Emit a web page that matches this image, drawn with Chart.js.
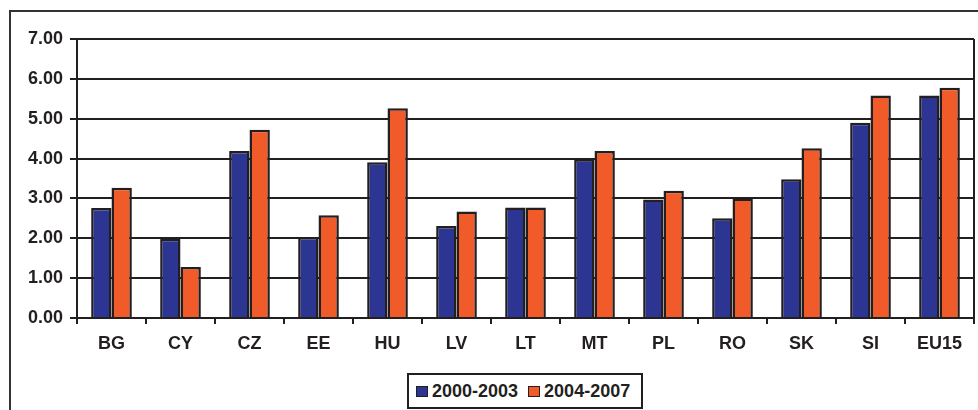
<!DOCTYPE html>
<html>
<head>
<meta charset="utf-8">
<script src="https://cdn.jsdelivr.net/npm/chart.js@4.4.1/dist/chart.umd.min.js"></script>
<style>
  html, body { margin: 0; padding: 0; background: #fff; overflow: hidden; }
  #wrap { position: relative; width: 978px; height: 410px; }
  #frame { position: absolute; left: 9px; top: 10px; width: 1000px; height: 500px; border: 2px solid #333; box-sizing: border-box; }
  #chartBox { position: absolute; left: 0; top: 0; width: 978px; height: 410px; }
  #legend {
    position: absolute; left: 407px; top: 373px; width: 236px; height: 36px;
    border: 2px solid #231f20; box-sizing: border-box; background: #fff;
    display: flex; align-items: center; padding-left: 7px;
    font: bold 18px "Liberation Sans", Arial, sans-serif; color: #231f20;
  }
  #legend .sw { display: inline-block; width: 12px; height: 11px; border: 1.5px solid #231f20; box-sizing: border-box; margin-right: 4px; }
  #legend .item { display: flex; align-items: center; margin-right: 10px; }
</style>
</head>
<body>
<div id="wrap">
  <div id="frame"></div>
  <div id="chartBox"><canvas id="chart" width="978" height="410"></canvas></div>
  <div id="legend"></div>
</div>
<script>
const categories = ['BG', 'CY', 'CZ', 'EE', 'HU', 'LV', 'LT', 'MT', 'PL', 'RO', 'SK', 'SI', 'EU15'];
const period1 = [2.76, 1.99, 4.19, 2.03, 3.91, 2.31, 2.77, 3.98, 2.97, 2.50, 3.48, 4.90, 5.58];
const period2 = [3.27, 1.28, 4.72, 2.58, 5.26, 2.67, 2.77, 4.19, 3.19, 3.00, 4.26, 5.58, 5.78];
const seriesNames = ['2000-2003', '2004-2007'];
const seriesColors = ['#2d3593', '#f15a29'];

const ink = '#231f20';

// right edge of plot area
const plotFrame = {
    id: 'plotFrame',
    afterDraw(chart) {
        const { ctx, chartArea: a } = chart;
        ctx.save();
        ctx.strokeStyle = ink;
        ctx.lineWidth = 2;
        ctx.beginPath();
        ctx.moveTo(a.right, a.top);
        ctx.lineTo(a.right, a.bottom + 6);
        ctx.stroke();
        ctx.restore();
    }
};

new Chart(document.getElementById('chart'), {
    type: 'bar',
    data: {
        labels: categories,
        datasets: [period1, period2].map((d, i) => ({
            label: seriesNames[i],
            data: d,
            backgroundColor: seriesColors[i],
            borderColor: ink,
            borderWidth: 2.5,
            categoryPercentage: 0.59,
            barPercentage: 1.0
        }))
    },
    options: {
        responsive: false,
        animation: false,
        devicePixelRatio: 1,
        layout: { padding: { top: 39, right: 4, left: 0, bottom: 0 } },
        plugins: { legend: { display: false }, tooltip: { enabled: false } },
        scales: {
            x: {
                grid: { offset: true, drawOnChartArea: false, drawTicks: true, tickLength: 6, color: ink, lineWidth: 2 },
                border: { display: true, color: ink, width: 2 },
                ticks: { color: ink, padding: 9, maxRotation: 0, autoSkip: false, font: { family: '"Liberation Sans", Arial, sans-serif', size: 18, weight: 'bold' } },
                afterFit: s => { s.height = 92; }
            },
            y: {
                min: 0, max: 7,
                ticks: {
                    stepSize: 1, color: ink, padding: 7,
                    font: { family: '"Liberation Sans", Arial, sans-serif', size: 18, weight: 'bold' },
                    callback: v => v.toFixed(2)
                },
                grid: { color: ink, lineWidth: 2, tickLength: 7 },
                border: { display: true, color: ink, width: 2 },
                afterFit: s => { s.width = 77; }
            }
        }
    },
    plugins: [plotFrame]
});

// legend
document.getElementById('legend').innerHTML = seriesNames.map((n, i) =>
    `<span class="item"><span class="sw" style="background:${seriesColors[i]}"></span>${n}</span>`
).join('');
</script>
</body>
</html>
